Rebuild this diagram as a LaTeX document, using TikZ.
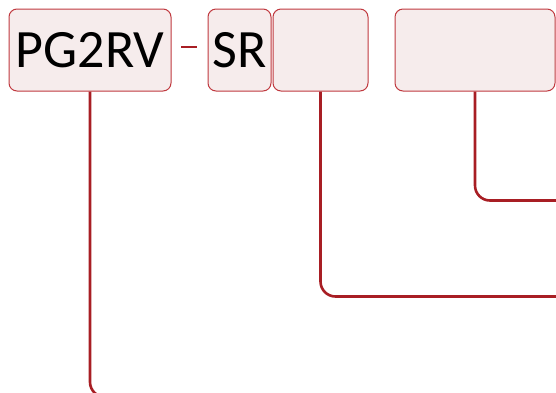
\documentclass[tikz,border=0pt]{standalone}
\usepackage{fontspec}
\setmainfont{Carlito}
\definecolor{boxfill}{HTML}{F6ECEC}
\definecolor{boxline}{HTML}{C0393F}
\definecolor{linkred}{HTML}{A81E24}
\begin{document}
\begin{tikzpicture}[
    x=1pt, y=-1pt,
    part/.style={rectangle, rounded corners=8pt, draw=boxline, line width=1pt,
        fill=boxfill, minimum height=82pt, inner sep=0pt,
        font=\fontsize{54}{60}\selectfont},
    link/.style={draw=linkred, line width=2.6pt, rounded corners=15pt}
]
    % Bounding box, lines run off the right and bottom edges
    \clip (0, 0) rectangle (556, 392);

    % --- Code parts ---
    \node[part, minimum width=162pt] (pg) at (90, 50) {PG2RV};
    \node[part, minimum width=63pt] (sr) at (239.5, 50) {SR};
    \node[part, minimum width=95pt] (p3) at (320.5, 50) {};
    \node[part, minimum width=160pt] (p4) at (475, 50) {};

    % --- Dash ---
    \coordinate (d1) at (181, 47);
    \coordinate (d2) at (197, 47);
    \draw[link] (d1) -- (d2);

    % --- Leader lines ---
    \coordinate (e4) at (570, 200.5);
    \coordinate (e3) at (570, 296.5);
    \coordinate (e1) at (570, 397);
    \draw[link] (p4.south) |- (e4);
    \draw[link] (p3.south) |- (e3);
    \draw[link] (pg.south) |- (e1);
\end{tikzpicture}
\end{document}
